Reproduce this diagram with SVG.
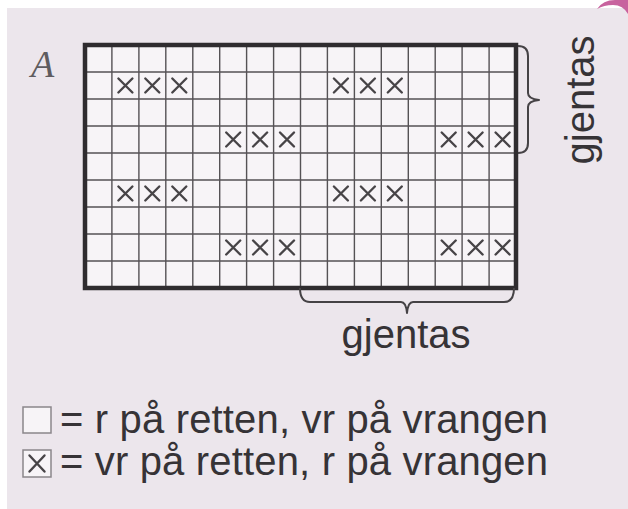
<svg xmlns="http://www.w3.org/2000/svg" xmlns:xlink="http://www.w3.org/1999/xlink" width="628" height="509" viewBox="0 0 628 509">
<style>
.txt{font-family:"Liberation Sans",Arial,sans-serif;font-size:40px;fill:#363336}
.grid{stroke:#555255;stroke-width:1.4;fill:none}
.mark{stroke:#474447;stroke-width:2.4;fill:none;stroke-linecap:round}
.brace{stroke:#454245;stroke-width:2;fill:none;stroke-linejoin:round}
</style>
<defs>
<path id="x" d="M-7,-7 L7,7 M7,-7 L-7,7" class="mark"/>
</defs>
<rect x="0" y="0" width="628" height="509" fill="#ffffff"/>
<rect x="7" y="8" width="621" height="501" fill="#ece6ec"/>
<path d="M597,9 Q603,0 615,0 L628,0 L628,14 Q623,5 613,5 Q604,5 597,9 Z" fill="#c8629e"/>
<g id="chart">
<rect x="85" y="45" width="431" height="243" fill="#f7f4f7"/>
<g class="grid">
<path d="M111.9,45V288M138.9,45V288M165.8,45V288M192.8,45V288M219.7,45V288M246.6,45V288M273.6,45V288M300.5,45V288M327.4,45V288M354.4,45V288M381.3,45V288M408.3,45V288M435.2,45V288M462.1,45V288M489.1,45V288"/>
<path d="M85,72H516M85,99H516M85,126H516M85,153H516M85,180H516M85,207H516M85,234H516M85,261H516"/>
</g>
<g id="marks">
<use xlink:href="#x" x="125.4" y="85.5"/><use xlink:href="#x" x="152.3" y="85.5"/><use xlink:href="#x" x="179.3" y="85.5"/>
<use xlink:href="#x" x="340.9" y="85.5"/><use xlink:href="#x" x="367.9" y="85.5"/><use xlink:href="#x" x="394.8" y="85.5"/>
<use xlink:href="#x" x="233.2" y="139.5"/><use xlink:href="#x" x="260.1" y="139.5"/><use xlink:href="#x" x="287.0" y="139.5"/>
<use xlink:href="#x" x="448.7" y="139.5"/><use xlink:href="#x" x="475.6" y="139.5"/><use xlink:href="#x" x="502.6" y="139.5"/>
<use xlink:href="#x" x="125.4" y="193.5"/><use xlink:href="#x" x="152.3" y="193.5"/><use xlink:href="#x" x="179.3" y="193.5"/>
<use xlink:href="#x" x="340.9" y="193.5"/><use xlink:href="#x" x="367.9" y="193.5"/><use xlink:href="#x" x="394.8" y="193.5"/>
<use xlink:href="#x" x="233.2" y="247.5"/><use xlink:href="#x" x="260.1" y="247.5"/><use xlink:href="#x" x="287.0" y="247.5"/>
<use xlink:href="#x" x="448.7" y="247.5"/><use xlink:href="#x" x="475.6" y="247.5"/><use xlink:href="#x" x="502.6" y="247.5"/>
</g>
<rect x="85" y="45" width="431" height="243" fill="none" stroke="#2f2c2f" stroke-width="4.5"/>
</g>
<g id="label-A">
<text x="31" y="77" font-family="'Liberation Serif','Times New Roman',serif" font-style="italic" font-size="38" fill="#5f5c5f">A</text>
</g>
<g id="connectors">
<path class="brace" d="M518,46 Q528,46 528,56 L528,93 Q528,99 539,100 Q528,101 528,107 L528,143 Q528,153 518,153"/>
<path class="brace" d="M300,288 Q300,302 310,302 L401,302 Q406,302 407,313 Q408,302 413,302 L504,302 Q514,302 514,288"/>
</g>
<g id="repeat-right">
<text class="txt" transform="translate(594,100) rotate(-90)" text-anchor="middle">gjentas</text>
</g>
<g id="repeat-bottom">
<text class="txt" x="406" y="348" text-anchor="middle">gjentas</text>
</g>
<g id="legend">
<rect x="23" y="407" width="28" height="26" fill="#f7f4f7" stroke="#8a878a" stroke-width="1.5"/>
<text class="txt" x="60" y="433" textLength="488" lengthAdjust="spacing">= r på retten, vr på vrangen</text>
<rect x="23" y="450" width="28" height="27" fill="#f7f4f7" stroke="#8a878a" stroke-width="1.5"/>
<path class="mark" d="M29.5,455.5 L44.5,471.5 M44.5,455.5 L29.5,471.5"/>
<text class="txt" x="60" y="475" textLength="488" lengthAdjust="spacing">= vr på retten, r på vrangen</text>
</g>
</svg>
